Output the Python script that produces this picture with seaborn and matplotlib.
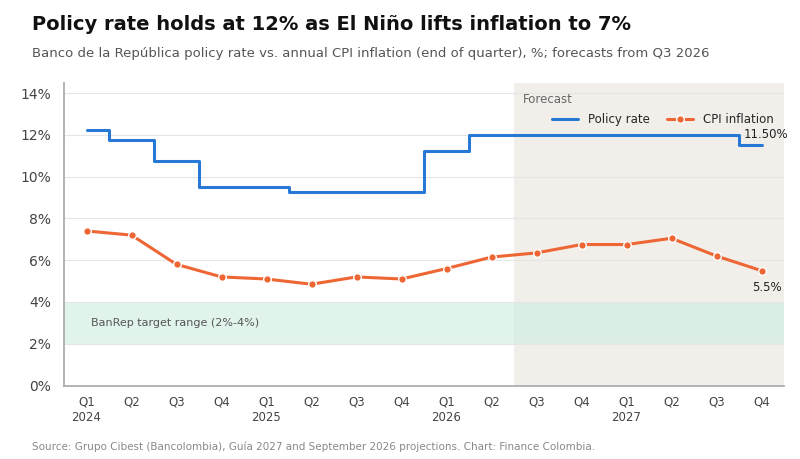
import matplotlib
matplotlib.use("Agg")
import matplotlib.pyplot as plt
import seaborn as sns
import pandas as pd

quarters = ["Q1\n2024","Q2","Q3","Q4","Q1\n2025","Q2","Q3","Q4","Q1\n2026","Q2","Q3","Q4","Q1\n2027","Q2","Q3","Q4"]
policy_rate = [12.25,11.75,10.75,9.5,9.5,9.25,9.25,9.25,11.25,12.0,12.0,12.0,12.0,12.0,12.0,11.5]
cpi = [7.4,7.2,5.8,5.2,5.1,4.85,5.2,5.1,5.6,6.15,6.35,6.75,6.75,7.05,6.2,5.5]

df = pd.DataFrame({"x": range(len(quarters)), "policy": policy_rate, "cpi": cpi})

sns.set_theme(style="white")
plt.rcParams['font.family'] = ['DejaVu Sans']
fig, ax = plt.subplots(figsize=(8, 4.59), dpi=100)
fig.subplots_adjust(left=0.08, right=0.98, top=0.82, bottom=0.16)

ax.axvspan(9.5, 15.5, color="#efece7", alpha=0.8, zorder=0, lw=0)
ax.axhspan(2, 4, color="#cdeee0", alpha=0.6, zorder=0, lw=0)
ax.text(0.1, 3.0, "BanRep target range (2%-4%)", fontsize=8, color="#555555", va="center", ha="left")
ax.text(9.7, 13.4, "Forecast", fontsize=8.5, color="#666666", va="bottom")

ax.plot(df["x"], df["policy"], drawstyle="steps-mid", color="#2878d6", lw=2.2, label="Policy rate", zorder=3)
sns.lineplot(data=df, x="x", y="cpi", ax=ax, color="#ee6633", lw=2.2, marker="o", markersize=5.5,
             markeredgecolor="white", markeredgewidth=1, label="CPI inflation", zorder=4)

ax.text(14.6, 11.7, "11.50%", fontsize=8.5, color="#222222", va="bottom")
ax.text(14.8, 5.0, "5.5%", fontsize=8.5, color="#222222", va="top")

ax.set_xlim(-0.5, 15.5)
ax.set_ylim(0, 14.5)
ax.set_yticks(range(0, 15, 2))
ax.set_yticklabels([f"{v}%" for v in range(0, 15, 2)], fontsize=10, color="#444444")
ax.set_xticks(range(len(quarters)))
ax.set_xticklabels(quarters, fontsize=8.5, color="#444444")
ax.tick_params(axis="x", length=4, color="#999999")
ax.set_xlabel(""); ax.set_ylabel("")
ax.grid(axis="y", color="#e6e6e6", lw=0.8)
for s in ["top", "right"]:
    ax.spines[s].set_visible(False)
for s in ["left", "bottom"]:
    ax.spines[s].set_color("#aaaaaa")
ax.legend(loc="upper right", bbox_to_anchor=(1.0, 0.935), ncol=2, frameon=False, fontsize=8.5,
          handlelength=2.2, columnspacing=1.5)

fig.text(0.04, 0.935, "Policy rate holds at 12% as El Niño lifts inflation to 7%", fontsize=14, fontweight="bold", color="#111111")
fig.text(0.04, 0.875, "Banco de la República policy rate vs. annual CPI inflation (end of quarter), %; forecasts from Q3 2026", fontsize=9.5, color="#555555")
fig.text(0.04, 0.02, "Source: Grupo Cibest (Bancolombia), Guía 2027 and September 2026 projections. Chart: Finance Colombia.", fontsize=7.5, color="#888888")
fig.savefig("out.png", dpi=100)
